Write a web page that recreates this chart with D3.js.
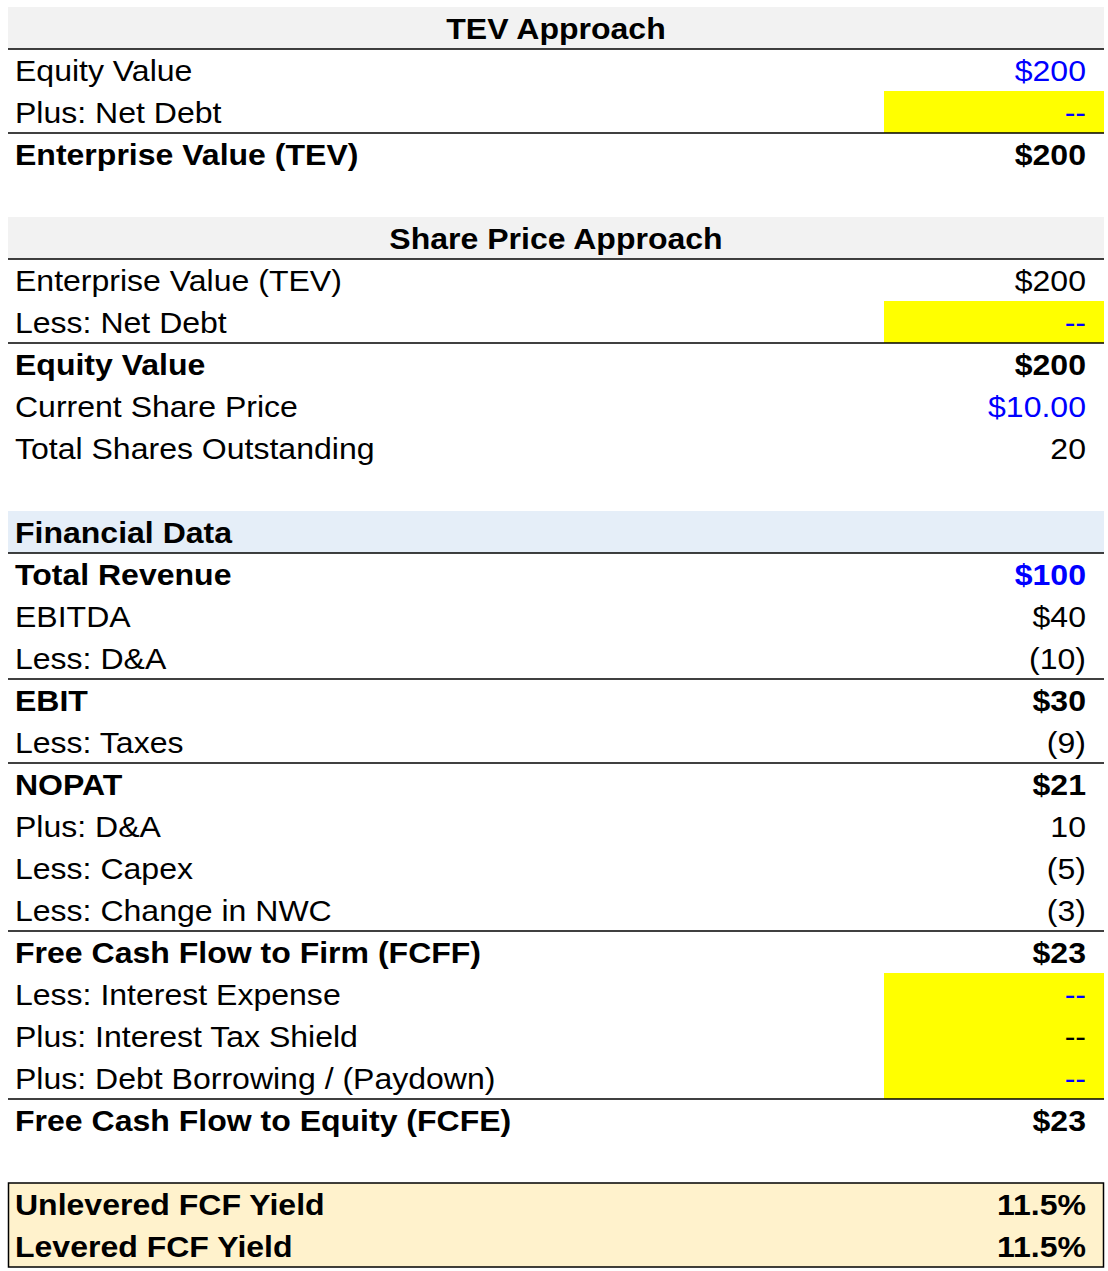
<!DOCTYPE html>
<html><head><meta charset="utf-8">
<script src="https://cdn.jsdelivr.net/npm/d3@7"></script>
<style>body{margin:0;background:#fff}svg{display:block}</style>
</head><body>
<script>
// ---- data ----
const rowLabels = ["TEV Approach","Equity Value","Plus: Net Debt","Enterprise Value (TEV)","",
  "Share Price Approach","Enterprise Value (TEV)","Less: Net Debt","Equity Value","Current Share Price","Total Shares Outstanding","",
  "Financial Data","Total Revenue","EBITDA","Less: D&A","EBIT","Less: Taxes","NOPAT","Plus: D&A","Less: Capex","Less: Change in NWC",
  "Free Cash Flow to Firm (FCFF)","Less: Interest Expense","Plus: Interest Tax Shield","Plus: Debt Borrowing / (Paydown)","Free Cash Flow to Equity (FCFE)","",
  "Unlevered FCF Yield","Levered FCF Yield"];
const rowValues = ["","$200","--","$200","",
  "","$200","--","$200","$10.00","20","",
  "","$100","$40","(10)","$30","(9)","$21","10","(5)","(3)",
  "$23","--","--","--","$23","",
  "11.5%","11.5%"];
// row kinds: h = section title, s = sub-section, t = total (bold), i = input (blue), n = normal, b = blank, y = yield
const rowKinds = ["h","i","i","t","b","h","n","i","t","i","n","b","s","ti","n","n","t","n","t","n","n","n","t","i","n","i","t","b","y","y"];
const highlighted = [2,7,23,24,25];
const ruleAfter = [0,2,5,7,12,15,17,21,25];

const W=1108,H=1271, L=8, R=1104, top0=7, rowH=42;
const svg=d3.select("body").append("svg").attr("width",W).attr("height",H);
const y=d3.scaleBand().domain(d3.range(rowLabels.length)).range([top0, top0+rowH*rowLabels.length]).padding(0);
const x=d3.scaleLinear().domain([0,1]).range([L,R]);
const font="'Liberation Sans', Arial, sans-serif", fs=30, sx=1.068;

// header bands
rowKinds.forEach((k,i)=>{
  if(k==="h") svg.append("rect").attr("x",x(0)).attr("y",y(i)).attr("width",x(1)-x(0)).attr("height",y.bandwidth()).attr("fill","#f2f2f2");
  if(k==="s") svg.append("rect").attr("x",x(0)).attr("y",y(i)).attr("width",x(1)-x(0)).attr("height",y.bandwidth()).attr("fill","#e5eef8");
});
// yield box
const yi=rowKinds.map((k,i)=>k==="y"?i:-1).filter(i=>i>=0);
svg.append("rect").attr("x",x(0)+0.5).attr("y",y(yi[0])).attr("width",x(1)-x(0)-1).attr("height",rowH*yi.length)
  .attr("fill","#fff2cc").attr("stroke","#000").attr("stroke-width",1.5);
// highlight cells
svg.selectAll("rect.hl").data(highlighted).join("rect").attr("class","hl")
  .attr("x",884).attr("y",d=>y(d)).attr("width",x(1)-884).attr("height",y.bandwidth()).attr("fill","#ffff00");
// rules
svg.selectAll("line.rule").data(ruleAfter).join("line").attr("class","rule")
  .attr("x1",x(0)).attr("x2",x(1)).attr("y1",d=>y(d)+rowH).attr("y2",d=>y(d)+rowH)
  .attr("stroke","#000").attr("stroke-width",1.3);

const g=svg.append("g").attr("transform",`scale(${sx},1)`);
rowLabels.forEach((lab,i)=>{
  const k=rowKinds[i]; if(k==="b") return;
  const base=y(i)+32;
  const bold = k!=="n" && k!=="i";
  if(k==="h"){
    g.append("text").attr("x",556/sx).attr("y",base).attr("text-anchor","middle")
      .attr("font-family",font).attr("font-size",fs).attr("font-weight","bold").attr("fill","#000").text(lab);
    return;
  }
  g.append("text").attr("x",15/sx).attr("y",base).attr("font-family",font).attr("font-size",fs)
    .attr("font-weight",bold?"bold":"normal").attr("fill","#000").text(lab);
  const v=rowValues[i];
  if(v){
    const blue = k==="i"||k==="ti";
    g.append("text").attr("x",1086/sx).attr("y",base).attr("text-anchor","end").attr("font-family",font).attr("font-size",fs)
      .attr("font-weight",bold?"bold":"normal").attr("fill",blue?"#0000ff":"#000").text(v);
  }
});
</script>
</body></html>
